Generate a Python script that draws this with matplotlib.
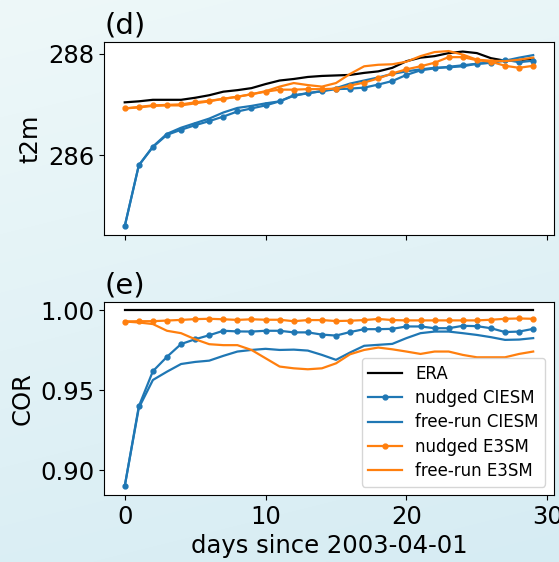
import numpy as np
import matplotlib
matplotlib.use("Agg")
import matplotlib.pyplot as plt

days = list(range(30))

# t2m (K)
t2m_era = [287.04, 287.06, 287.09, 287.09, 287.09, 287.13, 287.18, 287.25, 287.28, 287.32,
           287.40, 287.47, 287.50, 287.54, 287.56, 287.57, 287.58, 287.62, 287.65, 287.72,
           287.85, 287.92, 287.95, 288.01, 288.04, 288.01, 287.91, 287.86, 287.87, 287.90]
t2m_nudged_ciesm = [284.60, 285.80, 286.16, 286.40, 286.50, 286.59, 286.67, 286.76, 286.86, 286.92,
                    286.98, 287.06, 287.18, 287.22, 287.26, 287.30, 287.31, 287.33, 287.39, 287.46,
                    287.58, 287.67, 287.71, 287.74, 287.77, 287.80, 287.82, 287.88, 287.83, 287.86]
t2m_free_ciesm = [284.60, 285.80, 286.17, 286.42, 286.54, 286.63, 286.72, 286.84, 286.93, 286.97,
                  287.02, 287.06, 287.17, 287.22, 287.26, 287.32, 287.41, 287.47, 287.53, 287.60,
                  287.65, 287.69, 287.72, 287.73, 287.75, 287.80, 287.82, 287.86, 287.92, 287.97]
t2m_nudged_e3sm = [286.92, 286.95, 286.98, 286.99, 287.00, 287.04, 287.07, 287.11, 287.15, 287.20,
                   287.25, 287.29, 287.29, 287.30, 287.30, 287.31, 287.37, 287.43, 287.51, 287.61,
                   287.69, 287.75, 287.82, 287.93, 287.93, 287.87, 287.84, 287.76, 287.72, 287.76]
t2m_free_e3sm = [286.92, 286.94, 286.97, 286.98, 286.98, 287.02, 287.06, 287.11, 287.15, 287.20,
                 287.26, 287.35, 287.42, 287.38, 287.35, 287.42, 287.60, 287.75, 287.78, 287.79,
                 287.84, 287.95, 288.03, 288.05, 287.98, 287.88, 287.86, 287.85, 287.88, 287.92]

# correlation
cor_era = [1.0] * 30
cor_nudged_ciesm = [0.890, 0.940, 0.962, 0.971, 0.979, 0.982, 0.9845, 0.9873, 0.9869, 0.9868,
                    0.9873, 0.9873, 0.9863, 0.9863, 0.9849, 0.9843, 0.9865, 0.9883, 0.9883, 0.9885,
                    0.9900, 0.9900, 0.9889, 0.9889, 0.9904, 0.9902, 0.9889, 0.9865, 0.9868, 0.9885]
cor_free_ciesm = [0.890, 0.939, 0.9565, 0.9617, 0.9665, 0.9678, 0.9686, 0.9716, 0.9743, 0.9753,
                  0.9760, 0.9753, 0.9755, 0.9749, 0.9722, 0.9691, 0.9737, 0.9779, 0.9785, 0.9791,
                  0.9827, 0.9858, 0.9868, 0.9868, 0.9858, 0.9847, 0.9833, 0.9816, 0.9818, 0.9827]
cor_nudged_e3sm = [0.9931, 0.9933, 0.9933, 0.9937, 0.9941, 0.9946, 0.9948, 0.9945, 0.9941, 0.9945,
                   0.9942, 0.9942, 0.9933, 0.9940, 0.9940, 0.9934, 0.9936, 0.9940, 0.9947, 0.9940,
                   0.9938, 0.9938, 0.9938, 0.9938, 0.9938, 0.9938, 0.9942, 0.9948, 0.9950, 0.9948]
cor_free_e3sm = [0.9931, 0.9925, 0.9915, 0.9873, 0.9858, 0.9820, 0.9789, 0.9783, 0.9783, 0.9753,
                 0.9701, 0.9649, 0.9638, 0.9632, 0.9638, 0.9669, 0.9726, 0.9753, 0.9768, 0.9757,
                 0.9743, 0.9728, 0.9743, 0.9743, 0.9722, 0.9707, 0.9707, 0.9707, 0.9728, 0.9743]

labels = ["ERA", "nudged CIESM", "free-run CIESM", "nudged E3SM", "free-run E3SM"]
xticks = [0, 10, 20, 30]
t2m_ticks = [286, 288]
cor_ticks = [0.90, 0.95, 1.00]

plt.rcParams["font.family"] = "DejaVu Sans"
plt.rcParams["font.size"] = 17.5

W, H = 559, 562
fig = plt.figure(figsize=(W / 100, H / 100), dpi=100)

# light slide-like background
bg = fig.add_axes([0, 0, 1, 1], zorder=-10)
yy, xx = np.mgrid[0:1:H * 1j, 0:1:W * 1j]
top = np.array([238, 248, 249]) / 255.0
bot = np.array([214, 236, 243]) / 255.0
t = np.clip(0.8 * yy + 0.2 * xx, 0, 1)[..., None]
bg.imshow(top * (1 - t) + bot * t, aspect="auto", extent=[0, 1, 0, 1])
bg.axis("off")

ax1 = fig.add_axes([104.3 / W, 1 - 235 / H, (553.6 - 104.3) / W, (235 - 42.3) / H])
ax2 = fig.add_axes([104.3 / W, 1 - 495 / H, (553.6 - 104.3) / W, (495 - 301.7) / H], sharex=ax1)

blue = "#1f77b4"
orange = "#ff7f0e"
lw = 1.6
ms = 7

def draw(ax, era, nc, fc, ne, fe):
    ax.plot(days, era, color="black", lw=lw, label=labels[0])
    ax.plot(days, nc, color=blue, lw=lw, marker=".", ms=ms, label=labels[1])
    ax.plot(days, fc, color=blue, lw=lw, label=labels[2])
    ax.plot(days, ne, color=orange, lw=lw, marker=".", ms=ms, label=labels[3])
    ax.plot(days, fe, color=orange, lw=lw, label=labels[4])

draw(ax1, t2m_era, t2m_nudged_ciesm, t2m_free_ciesm, t2m_nudged_e3sm, t2m_free_e3sm)
draw(ax2, cor_era, cor_nudged_ciesm, cor_free_ciesm, cor_nudged_e3sm, cor_free_e3sm)

ax1.set_yticks(t2m_ticks)
ax1.set_ylabel("t2m")
ax1.set_title("(d)", loc="left")
ax1.tick_params(labelbottom=False)

ax2.set_xticks(xticks)
ax2.set_yticks(cor_ticks)
ax2.set_yticklabels([f"{v:.2f}" for v in cor_ticks])
ax2.set_ylabel("COR")
ax2.set_xlabel("days since 2003-04-01")
ax2.set_title("(e)", loc="left")
ax2.legend(loc="lower right", fontsize=12, labelspacing=0.38)

fig.savefig("out.png", dpi=100)
